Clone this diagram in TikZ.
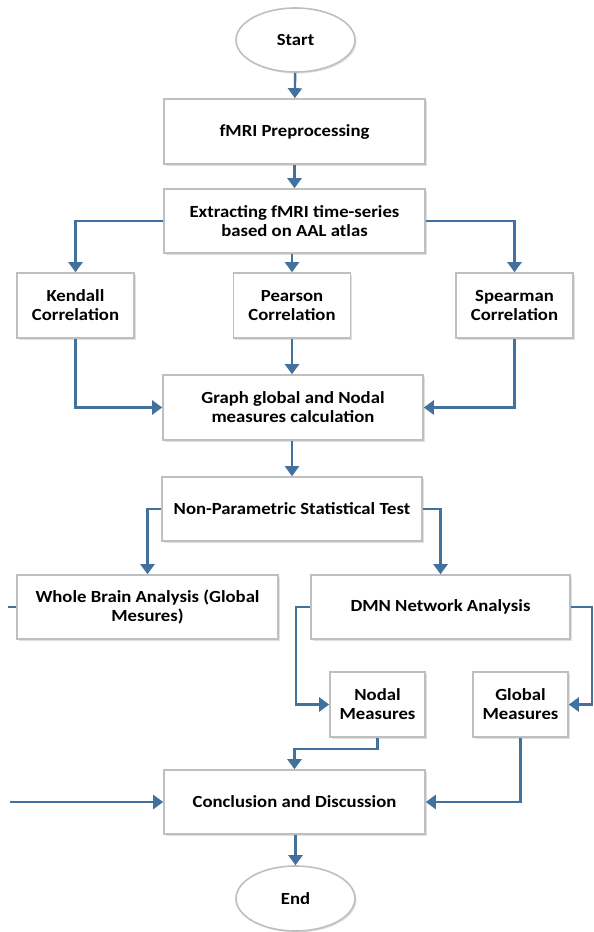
\documentclass[tikz,border=0pt]{standalone}
\usepackage{fontspec}
\setmainfont{Carlito}[FakeStretch=1.1]
\usetikzlibrary{arrows.meta,shapes.geometric,shadows}

\definecolor{flowblue}{HTML}{41719C}
\definecolor{boxgray}{HTML}{BFBFBF}

\tikzset{
  stepbox/.style={draw=boxgray, line width=1.6pt, fill=white, align=center,
    inner sep=0pt, font=\fontsize{17}{19}\selectfont\bfseries,
    drop shadow={shadow xshift=1.5pt, shadow yshift=-1.5pt, opacity=0.12, fill=black}},
  termbox/.style={stepbox, ellipse, minimum width=119pt, minimum height=64pt},
  flow/.style={draw=flowblue, line width=2.4pt, -{Triangle[length=10pt,width=14pt]}},
  flowline/.style={draw=flowblue, line width=2.4pt}
}

\begin{document}
\begin{tikzpicture}[x=1pt,y=-1pt]
\useasboundingbox (0,0) rectangle (594,932);

% top part
\node[termbox] (start) at (295.5,40) {Start};
\node[stepbox, minimum width=261pt, minimum height=65pt] (prep) at (294.5,131.5) {fMRI Preprocessing};
\node[stepbox, minimum width=261pt, minimum height=64pt] (extract) at (294.5,221) {Extracting fMRI time-series\\based on AAL atlas};

% three correlations
\node[stepbox, minimum width=117pt, minimum height=65pt] (kendall) at (75.5,305.5) {Kendall\\Correlation};
\node[stepbox, minimum width=117pt, minimum height=65pt] (pearson) at (292,305.5) {Pearson\\Correlation};
\node[stepbox, minimum width=117pt, minimum height=65pt] (spearman) at (514.5,305.5) {Spearman\\Correlation};

\node[stepbox, minimum width=260pt, minimum height=65pt] (graph) at (293,407.5) {Graph global and Nodal\\measures calculation};
\node[stepbox, minimum width=260pt, minimum height=64pt] (test) at (292,509) {Non-Parametric Statistical Test};

% analyses
\node[stepbox, minimum width=261pt, minimum height=64pt] (whole) at (147.5,607) {Whole Brain Analysis (Global\\Mesures)};
\node[stepbox, minimum width=259pt, minimum height=64pt] (dmn) at (440.5,607) {DMN Network Analysis};
\node[stepbox, minimum width=95pt, minimum height=65pt] (nodal) at (377.5,704.5) {Nodal\\Measures};
\node[stepbox, minimum width=95pt, minimum height=65pt] (global) at (520.5,704.5) {Global\\Measures};

\node[stepbox, minimum width=261pt, minimum height=64pt] (concl) at (294.5,802) {Conclusion and Discussion};
\node[termbox, minimum height=65pt] (end) at (295.5,898.5) {End};

% loose ends at the edges
\coordinate (lstub) at (8,607);
\coordinate (lin) at (10,802);
\coordinate (rloop) at (592,607);

% connectors
\draw[flow] (start) -- (prep);
\draw[flow] (prep) -- (extract);
\draw[flow] (extract.west) -| (kendall.north);
\draw[flow] (pearson.north |- extract.south) -- (pearson.north);
\draw[flow] (extract.east) -| (spearman.north);
\draw[flow] (kendall.south) |- (graph.west);
\draw[flow] (pearson.south) -- (pearson.south |- graph.north);
\draw[flow] (spearman.south) |- (graph.east);
\draw[flow] (graph.south -| test.north) -- (test.north);
\draw[flow] (test.west) -| (whole.north);
\draw[flow] (test.east) -| (dmn.north);
\draw[flow] (dmn.west) -- ++(-14,0) |- (nodal.west);
\draw[flow] (dmn.east) -- (rloop) |- (global.east);
\draw[flow] (nodal.south) -- ++(0,11) -| (concl.north);
\draw[flow] (global.south) |- (concl.east);
\draw[flowline] (lstub) -- (whole.west);
\draw[flow] (lin) -- (concl.west);
\draw[flow] (concl.south -| end.north) -- (end.north);

\end{tikzpicture}
\end{document}
